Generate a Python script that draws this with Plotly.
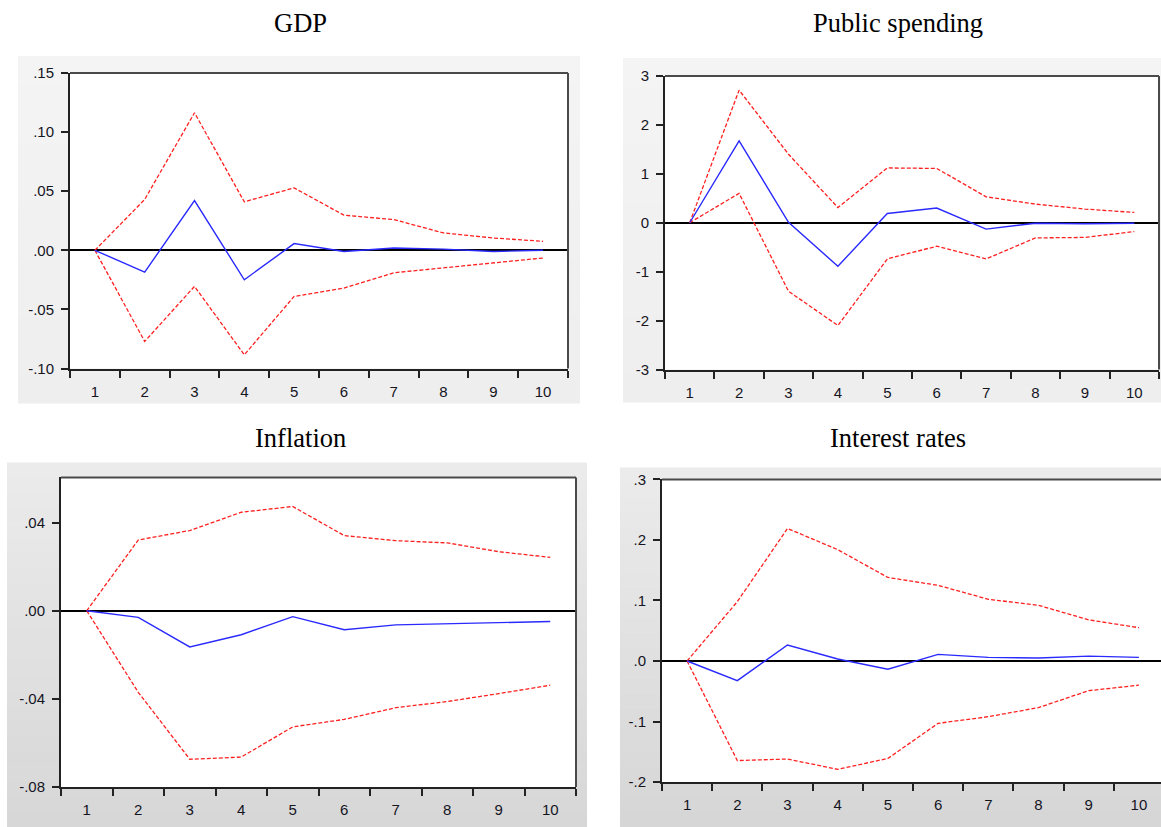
import plotly.graph_objects as go

# ---------------- data ----------------
periods = ["1", "2", "3", "4", "5", "6", "7", "8", "9", "10"]

titles = ["GDP", "Public spending", "Inflation", "Interest rates"]

gdp_resp = [0.0, -0.0184, 0.042, -0.0249, 0.0057, -0.001, 0.002, 0.001, -0.001, 0.0]
gdp_upper = [0.0, 0.043, 0.1163, 0.041, 0.0528, 0.0297, 0.026, 0.0147, 0.0104, 0.0076]
gdp_lower = [0.0, -0.0771, -0.0305, -0.0884, -0.039, -0.032, -0.019, -0.015, -0.0107, -0.0065]

pub_resp = [0.0, 1.673, 0.01, -0.89, 0.19, 0.30, -0.13, -0.01, -0.02, -0.01]
pub_upper = [0.0, 2.71, 1.40, 0.31, 1.12, 1.11, 0.53, 0.38, 0.28, 0.21]
pub_lower = [0.0, 0.60, -1.40, -2.10, -0.74, -0.48, -0.74, -0.31, -0.30, -0.18]

inf_resp = [0.0, -0.003, -0.0164, -0.0109, -0.0027, -0.0086, -0.0064, -0.006, -0.0053, -0.0049]
inf_upper = [0.0, 0.0321, 0.0364, 0.0447, 0.0473, 0.0341, 0.0318, 0.0308, 0.0268, 0.0242]
inf_lower = [0.0, -0.037, -0.0674, -0.0664, -0.0527, -0.0493, -0.044, -0.0412, -0.0376, -0.0338]

int_resp = [0.0, -0.0325, 0.0264, 0.0033, -0.0137, 0.011, 0.006, 0.005, 0.008, 0.006]
int_upper = [0.0, 0.098, 0.219, 0.184, 0.138, 0.125, 0.102, 0.092, 0.068, 0.055]
int_lower = [0.0, -0.1645, -0.162, -0.179, -0.161, -0.103, -0.092, -0.077, -0.049, -0.040]

gdp_ticks = [-0.10, -0.05, 0.0, 0.05, 0.10, 0.15]
gdp_ticktext = ["-.10", "-.05", ".00", ".05", ".10", ".15"]
pub_ticks = [-3, -2, -1, 0, 1, 2, 3]
pub_ticktext = ["-3", "-2", "-1", "0", "1", "2", "3"]
inf_ticks = [-0.08, -0.04, 0.0, 0.04]
inf_ticktext = ["-.08", "-.04", ".00", ".04"]
int_ticks = [-0.2, -0.1, 0.0, 0.1, 0.2, 0.3]
int_ticktext = ["-.2", "-.1", ".0", ".1", ".2", ".3"]

series = [
    (gdp_resp, gdp_upper, gdp_lower, gdp_ticks, gdp_ticktext),
    (pub_resp, pub_upper, pub_lower, pub_ticks, pub_ticktext),
    (inf_resp, inf_upper, inf_lower, inf_ticks, inf_ticktext),
    (int_resp, int_upper, int_lower, int_ticks, int_ticktext),
]

# ---------------- layout geometry (target pixels in the photo) ----------------
W, H = 1161, 827
Y_OFF, Y_SPAN = 8.0, 811.0   # observed vertical placement of the page in the photo


def fx(x):
    return x / W


def fy(y):
    v = 1 - (y - Y_OFF) / Y_SPAN
    return min(max(v, -0.02), 1.02)


panels = [
    dict(x0=70, x1=568, top=72, bot=368, yr=[-0.10, 0.15], xr=[-0.5, 9.5],
         bg=(18, 55, 580, 403), grad=("#f4f4f4", "#eeeeee"), title=(300, 22), right=True),
    dict(x0=665, x1=1159, top=75, bot=369, yr=[-3, 3], xr=[-0.5, 9.5],
         bg=(623, 57, 1161, 402), grad=("#f4f4f4", "#eeeeee"), title=(898, 22), right=True),
    dict(x0=61, x1=576, top=477, bot=787, yr=[-0.08, 0.0605], xr=[-0.5, 9.5],
         bg=(7, 462, 587, 827), grad=("#ebebeb", "#d7d7d7"), title=(300, 438), right=True),
    dict(x0=662, x1=1161, top=479, bot=782, yr=[-0.2, 0.3], xr=[-0.5, 9.44],
         bg=(620, 467, 1161, 827), grad=("#ebebeb", "#d6d6d6"), title=(898, 438), right=False),
]


def hex2rgb(h):
    h = h.lstrip("#")
    return tuple(int(h[i:i + 2], 16) for i in (0, 2, 4))


fig = go.Figure()
shapes = []
annotations = []
tick_font = dict(family="Liberation Sans, Arial, sans-serif", size=15, color="#15151f")

for i, (p, (resp, up, lo, yt, ytt)) in enumerate(zip(panels, series)):
    n = i + 1
    xa = "x" if n == 1 else f"x{n}"
    ya = "y" if n == 1 else f"y{n}"
    # gray gradient background as horizontal stripes
    bx0, by0, bx1, by1 = p["bg"]
    c0, c1 = hex2rgb(p["grad"][0]), hex2rgb(p["grad"][1])
    nstripes = 24
    for k in range(nstripes):
        t = k / (nstripes - 1)
        col = "rgb(%d,%d,%d)" % tuple(round(c0[j] + (c1[j] - c0[j]) * t) for j in range(3))
        ya0 = by0 + (by1 - by0) * k / nstripes
        ya1 = by0 + (by1 - by0) * (k + 1) / nstripes + 0.5
        shapes.append(dict(type="rect", xref="paper", yref="paper", layer="below",
                           x0=fx(bx0), x1=fx(bx1), y0=fy(ya0), y1=fy(min(ya1, by1)),
                           fillcolor=col, line=dict(width=0)))
    # white plot area
    shapes.append(dict(type="rect", xref="paper", yref="paper", layer="below",
                       x0=fx(p["x0"]), x1=fx(p["x1"]), y0=fy(p["bot"]), y1=fy(p["top"]),
                       fillcolor="white", line=dict(width=0)))
    # top and right frame lines
    shapes.append(dict(type="line", xref="paper", yref="paper", layer="above",
                       x0=fx(p["x0"]), x1=fx(p["x1"]), y0=fy(p["top"]), y1=fy(p["top"]),
                       line=dict(color="#4a4a4a", width=2)))
    if p["right"]:
        shapes.append(dict(type="line", xref="paper", yref="paper", layer="above",
                           x0=fx(p["x1"]), x1=fx(p["x1"]), y0=fy(p["bot"]), y1=fy(p["top"]),
                           line=dict(color="#4a4a4a", width=2)))

    fig.add_trace(go.Scatter(x=periods, y=up, mode="lines", xaxis=xa, yaxis=ya,
                             line=dict(color="#ff2020", width=1.3, dash="4px,2px"),
                             showlegend=False))
    fig.add_trace(go.Scatter(x=periods, y=lo, mode="lines", xaxis=xa, yaxis=ya,
                             line=dict(color="#ff2020", width=1.3, dash="4px,2px"),
                             showlegend=False))
    fig.add_trace(go.Scatter(x=periods, y=resp, mode="lines", xaxis=xa, yaxis=ya,
                             line=dict(color="#2a2aff", width=1.4),
                             showlegend=False))

    xkey = "xaxis" if n == 1 else f"xaxis{n}"
    ykey = "yaxis" if n == 1 else f"yaxis{n}"
    fig.update_layout(**{
        xkey: dict(domain=[fx(p["x0"]), fx(p["x1"])], anchor=ya, type="category",
                   range=p["xr"], tickson="boundaries", ticks="outside", ticklen=7,
                   tickwidth=1.5, tickcolor="#222", showgrid=False, zeroline=False,
                   showline=True, linecolor="#222", linewidth=2, tickfont=tick_font,
                   ticklabelstandoff=8, fixedrange=True),
        ykey: dict(domain=[fy(p["bot"]), fy(p["top"])], anchor=xa, range=p["yr"],
                   tickmode="array", tickvals=yt, ticktext=ytt, ticks="outside",
                   ticklen=7, tickwidth=1.5, tickcolor="#222", showgrid=False,
                   zeroline=True, zerolinecolor="#000", zerolinewidth=1.6,
                   showline=True, linecolor="#222", linewidth=2, tickfont=tick_font,
                   ticklabelstandoff=4, fixedrange=True),
    })
    tx, ty = p["title"]
    annotations.append(dict(text=titles[i], xref="paper", yref="paper", x=fx(tx), y=fy(ty),
                            xanchor="center", yanchor="middle", showarrow=False,
                            font=dict(family="Liberation Serif, Times New Roman, serif",
                                      size=26.5, color="#000")))

fig.update_layout(width=W, height=H, margin=dict(l=0, r=0, t=0, b=0),
                  paper_bgcolor="white", plot_bgcolor="rgba(0,0,0,0)",
                  shapes=shapes, annotations=annotations)

pin_script = (
    "document.documentElement.style.overflow='hidden';"
    "document.body.style.margin='0';document.body.style.overflow='hidden';"
    "var gd=document.getElementById('{plot_id}');"
    "gd.style.position='fixed';gd.style.left='0px';gd.style.top='0px';"
)

fig.write_html("out.html", post_script=pin_script,
               config={"responsive": False, "displayModeBar": False})
